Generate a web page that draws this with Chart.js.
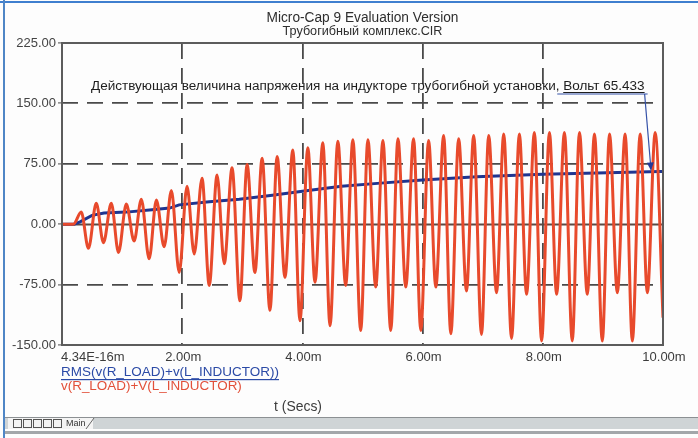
<!DOCTYPE html>
<html>
<head>
<meta charset="utf-8">
<script src="https://cdn.jsdelivr.net/npm/chart.js@4/dist/chart.umd.min.js"></script>
<style>
  html, body { margin: 0; padding: 0; background: #fdfdfd; }
  #wrap { width: 698px; height: 438px; }
</style>
</head>
<body>
<div id="wrap"><canvas id="graph" width="698" height="438"></canvas></div>
<script>
// time axis in ms, tick texts as printed by Micro-Cap
var xTicks = [0, 2, 4, 6, 8, 10];
var xTickLabels = ['4.34E-16m', '2.00m', '4.00m', '6.00m', '8.00m', '10.00m'];

// v(R_LOAD)+V(L_INDUCTOR): turning points (ms, volts)
var waveT = [0, 0.19, 0.32, 0.44, 0.57, 0.69, 0.82, 0.94, 1.07, 1.20, 1.32, 1.45, 1.57, 1.70,
    1.82, 1.95, 2.08, 2.20, 2.33, 2.45, 2.58, 2.70, 2.83, 2.96, 3.08, 3.21, 3.33, 3.46, 3.58,
    3.71, 3.84, 3.96, 4.09, 4.21, 4.34, 4.46, 4.59, 4.72, 4.84, 4.97, 5.09, 5.22, 5.34, 5.47,
    5.59, 5.72, 5.85, 5.97, 6.10, 6.22, 6.35, 6.47, 6.60, 6.73, 6.85, 6.98, 7.10, 7.23, 7.35,
    7.48, 7.61, 7.73, 7.86, 7.98, 8.11, 8.23, 8.36, 8.49, 8.61, 8.74, 8.86, 8.99, 9.11, 9.24,
    9.37, 9.49, 9.62, 9.74, 9.87, 10.00];
var waveV = [0, 0, 15, -30, 26, -23, 26, -35, 25, -21, 31, -43, 30, -28,
    42, -60, 47, -37, 57, -76, 61, -49, 70, -95, 74, -60, 82, -107, 84,
    -66, 92, -120, 95, -72, 101, -126, 103, -76, 105, -132, 105, -78, 104, -132,
    106, -78, 106, -132, 104, -78, 110, -136, 106, -83, 110, -137, 110, -85, 112,
    -142, 112, -87, 114, -145, 114, -87, 114, -145, 114, -87, 112, -145, 112, -85,
    112, -145, 112, -85, 114, -116];

// RMS(v(R_LOAD)+v(L_INDUCTOR))
var rmsT = [0, 0.2, 0.3, 0.5, 0.7, 1.07, 1.5, 1.79, 1.95, 2.45, 2.95, 3.5, 4.0, 4.65, 5.3,
    6.0, 6.9, 8.0, 8.9, 9.95, 10.0];
var rmsV = [0, 0, 3, 11, 14, 15, 18, 20, 24, 28, 31, 36, 41, 47, 51,
    55, 59, 62, 63.5, 65.4, 65.4];

var markT = 9.8;
var markV = 65.433;

var FONT = "'Liberation Sans', Arial, sans-serif";

function toPoints(xs, ys) {
    var pts = [];
    for (var i in xs) {
        pts.push({x: xs[i], y: ys[i]});
    }
    return pts;
}

// text fitted to a given width
function fitText(ctx, text, x, y, width, size, weight) {
    ctx.font = (weight || '') + ' ' + size + 'px ' + FONT;
    var w = ctx.measureText(text).width;
    var s = size * width / w;
    ctx.font = (weight || '') + ' ' + s.toFixed(2) + 'px ' + FONT;
    ctx.fillText(text, x, y);
    return s;
}

var mcPlugin = {
    id: 'mcFrame',
    beforeDatasetsDraw: function (chart) {
        var ctx = chart.ctx;
        var a = chart.chartArea;
        var ys = chart.scales.y;
        ctx.save();
        // solid zero line
        var y0 = Math.round(ys.getPixelForValue(0)) + 0.5;
        ctx.strokeStyle = '#5a4a44';
        ctx.lineWidth = 1.8;
        ctx.beginPath();
        ctx.moveTo(a.left, y0);
        ctx.lineTo(a.right, y0);
        ctx.stroke();
        ctx.restore();
    },
    afterDraw: function (chart) {
        var ctx = chart.ctx;
        var a = chart.chartArea;
        var xs = chart.scales.x;
        var ys = chart.scales.y;
        ctx.save();

        // plot box
        ctx.strokeStyle = '#5c5c5c';
        ctx.lineWidth = 2;
        ctx.strokeRect(a.left, a.top, a.right - a.left, a.bottom - a.top);

        // titles
        ctx.fillStyle = '#2e2e2e';
        ctx.textAlign = 'center';
        ctx.textBaseline = 'middle';
        var cx = (a.left + a.right) / 2;
        fitText(ctx, 'Micro-Cap 9 Evaluation Version', cx, 18, 192, 12);
        fitText(ctx, 'Трубогибный комплекс.CIR', cx, 32, 160, 12);

        // x tick labels
        ctx.fillStyle = '#3c3c3c';
        ctx.font = '13px ' + FONT;
        for (var i in xTicks) {
            var px = xs.getPixelForValue(xTicks[i]);
            ctx.textAlign = (i == 0) ? 'left' : 'center';
            ctx.fillText(xTickLabels[i], i == 0 ? px - 1 : px + 1, 357);
        }

        // legend
        ctx.textAlign = 'left';
        ctx.fillStyle = '#2b4aa6';
        fitText(ctx, 'RMS(v(R_LOAD)+v(L_INDUCTOR))', 61, 372, 218, 13);
        ctx.fillRect(61, 379, 218, 1.2);
        ctx.fillStyle = '#e2503a';
        fitText(ctx, 'v(R_LOAD)+V(L_INDUCTOR)', 61, 386, 181, 13);
        ctx.fillStyle = '#3c3c3c';
        ctx.textAlign = 'center';
        fitText(ctx, 't (Secs)', 298, 407, 48, 13);

        // annotation
        var note = 'Действующая величина напряжения на индукторе трубогибной установки, ';
        var note2 = 'Вольт ' + markV.toFixed(3);
        ctx.textAlign = 'left';
        ctx.fillStyle = '#1e1e1e';
        var s = fitText(ctx, note + note2, 91, 86, 554, 12);
        ctx.font = s.toFixed(2) + 'px ' + FONT;
        var ux = 91 + ctx.measureText(note).width;
        var uw = ctx.measureText(note2).width;
        ctx.fillRect(ux, 92, uw, 1);

        var mx = xs.getPixelForValue(markT);
        var my = ys.getPixelForValue(markV);
        ctx.strokeStyle = '#3552a8';
        ctx.lineWidth = 1.2;
        ctx.beginPath();
        ctx.moveTo(ux - 6, 94);
        ctx.lineTo(ux + uw + 3, 94);
        ctx.moveTo(ux + uw, 94);
        ctx.lineTo(mx, my - 2);
        ctx.stroke();
        var ang = Math.atan2(my - 2 - 94, mx - ux - uw);
        ctx.fillStyle = '#23399a';
        ctx.beginPath();
        ctx.moveTo(mx, my - 1);
        ctx.lineTo(mx - 8 * Math.cos(ang) + 3.5 * Math.sin(ang), my - 1 - 8 * Math.sin(ang) - 3.5 * Math.cos(ang));
        ctx.lineTo(mx - 8 * Math.cos(ang) - 3.5 * Math.sin(ang), my - 1 - 8 * Math.sin(ang) + 3.5 * Math.cos(ang));
        ctx.closePath();
        ctx.fill();

        // window chrome
        ctx.fillStyle = '#3f7fcf';
        ctx.fillRect(0, 1, 698, 2);
        ctx.fillStyle = '#4f86c6';
        ctx.fillRect(3, 0, 2, 438);
        ctx.fillStyle = '#cfd4d6';
        ctx.fillRect(5, 417, 693, 12);
        ctx.fillStyle = '#8c9093';
        ctx.fillRect(5, 417, 693, 1);
        ctx.fillStyle = '#a3a7aa';
        ctx.fillRect(5, 431, 693, 3);
        ctx.fillStyle = '#f4f4f4';
        ctx.fillRect(8, 418, 85, 11);
        for (var b = 0; b < 5; b++) {
            ctx.strokeStyle = '#555';
            ctx.lineWidth = 1;
            ctx.strokeRect(13.5 + b * 10, 419.5, 8, 8);
        }
        ctx.fillStyle = '#333';
        ctx.font = '9px ' + FONT;
        ctx.textAlign = 'left';
        ctx.fillText('Main', 66, 424);
        ctx.strokeStyle = '#666';
        ctx.beginPath();
        ctx.moveTo(86, 429);
        ctx.lineTo(94, 418);
        ctx.stroke();

        ctx.restore();
    }
};

function edgeColor(edges) {
    return function (c) {
        if (c.tick && edges.indexOf(c.tick.value) >= 0) {
            return 'rgba(0,0,0,0)';
        }
        return '#4a4a4a';
    };
}

var graphTarget = document.getElementById('graph');
var waveGraph = new Chart(graphTarget, {
    type: 'line',
    data: {
        datasets: [
            {
                label: 'v(R_LOAD)+V(L_INDUCTOR)',
                data: toPoints(waveT, waveV),
                borderColor: '#e84a2c',
                borderWidth: 3,
                pointRadius: 0,
                cubicInterpolationMode: 'monotone',
                fill: false
            }, {
                label: 'RMS(v(R_LOAD)+v(L_INDUCTOR))',
                data: toPoints(rmsT, rmsV),
                borderColor: '#1f3590',
                borderWidth: 3,
                pointRadius: 0,
                tension: 0,
                fill: false
            }
        ]
    },
    options: {
        animation: false,
        responsive: false,
        maintainAspectRatio: false,
        layout: {padding: {top: 43, right: 35, bottom: 93, left: 0}},
        plugins: {
            legend: {display: false},
            tooltip: {enabled: false},
            title: {display: false}
        },
        scales: {
            x: {
                type: 'linear',
                min: 0,
                max: 10,
                ticks: {display: false, stepSize: 2},
                grid: {color: edgeColor([0, 10]), lineWidth: 1.8, drawTicks: false},
                border: {display: false, dash: [16, 9]},
                afterFit: function (s) { s.height = 0; }
            },
            y: {
                min: -150,
                max: 225,
                ticks: {
                    stepSize: 75,
                    color: '#444',
                    padding: 2,
                    font: {family: FONT, size: 13},
                    callback: function (v) { return v.toFixed(2); }
                },
                grid: {
                    color: edgeColor([-150, 0, 225]),
                    lineWidth: 1.8,
                    tickLength: 4,
                    tickColor: '#666',
                    tickWidth: 1.2,
                    tickBorderDash: []
                },
                border: {display: false, dash: [16, 9]},
                afterFit: function (s) { s.width = 62; }
            }
        }
    },
    plugins: [mcPlugin]
});
</script>
</body>
</html>
